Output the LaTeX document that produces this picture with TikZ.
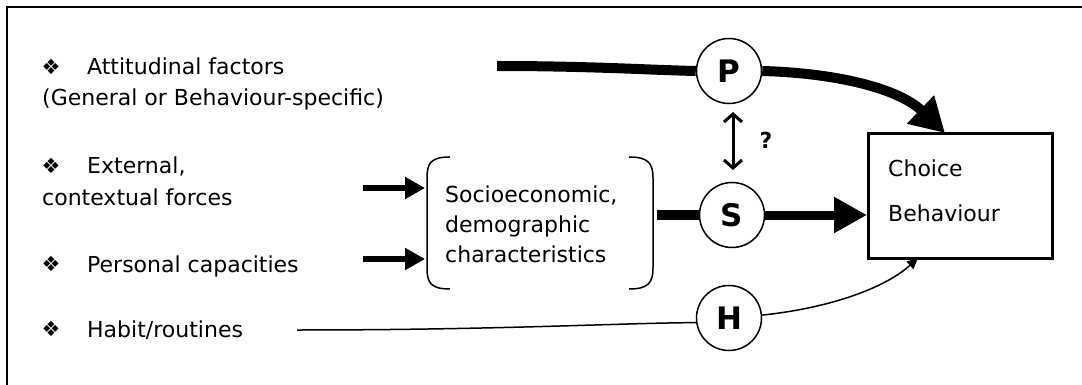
\documentclass[tikz,border=0pt]{standalone}
\usepackage{fontspec}
\setmainfont{DejaVu Sans}
\usetikzlibrary{arrows.meta}

\begin{document}
\begin{tikzpicture}[x=1pt,y=-1pt,
  txt/.style={font=\fontsize{22}{26}\selectfont, anchor=base west, inner sep=0pt},
  bul/.style={font=\fontsize{21}{25}\selectfont, inner sep=0pt},
  factor/.style={circle, draw, line width=1.5pt, minimum size=65pt, inner sep=0pt,
    fill=white, font=\fontsize{31}{34}\selectfont\bfseries},
  heavy/.style={line width=10pt},
  feed/.style={line width=6pt, -{Triangle[length=20pt,width=21pt]}},
  thin/.style={line width=1.5pt},
  brk/.style={line width=1.5pt}
]
\useasboundingbox (0,0) rectangle (1082,385);

% frame
\draw[line width=2pt] (7,385) -- (7,7) -- (1082,7);

% influences listed on the left
\node[bul] (b1) at (51,67) {❖};
\node[txt] (t1) at (87,75) {Attitudinal factors};
\node[txt] (t1b) at (42,106) {(General or Behaviour-specific)};
\node[bul] (b2) at (51,166) {❖};
\node[txt] (t2) at (87,174) {External,};
\node[txt] (t2b) at (42,205) {contextual forces};
\node[bul] (b3) at (51,264) {❖};
\node[txt] (t3) at (87,272) {Personal capacities};
\node[bul] (b4) at (51,329) {❖};
\node[txt] (t4) at (87,337) {Habit/routines};

% bracketed group
\node[txt] (s1) at (445,203) {Socioeconomic,};
\node[txt] (s2) at (445,233) {demographic};
\node[txt] (s3) at (445,262) {characteristics};
\draw[brk] (450,157) .. controls (431,157) and (427,163) .. (427,178) -- (427,268)
  .. controls (427,283) and (431,289) .. (450,289);
\draw[brk] (629,157) .. controls (648,157) and (653,163) .. (653,178) -- (653,268)
  .. controls (653,283) and (648,289) .. (629,289);

% outcome box
\node[draw, line width=3pt, minimum width=184pt, minimum height=125pt,
  anchor=north west, inner sep=0pt] (cb) at (867,132) {};
\node[txt] (c1) at (888,176) {Choice};
\node[txt] (c2) at (888,222) {Behaviour};

% circled factors
\node[factor] (P) at (729,71) {P};
\node[factor] (S) at (732,215) {S};
\node[factor] (H) at (729,318) {H};

% anchor points for connectors
\coordinate (a0) at (497,66);
\coordinate (pt) at (945,133);
\coordinate (e0) at (363,188);
\coordinate (e1) at (425,188);
\coordinate (f0) at (363,259);
\coordinate (f1) at (425,259);
\coordinate (g0) at (657,215);
\coordinate (h0) at (297,330);
\coordinate (ht) at (918,258);
\coordinate (q0) at (733,112);
\coordinate (q1) at (733,170);

% connectors
\draw[heavy] (a0) .. controls (590,66) and (650,70) .. (P.west);
\draw[heavy, -{Triangle[length=34pt,width=37pt]}] (P.east)
  .. controls (835,73) and (898,88) .. (pt);
\draw[feed] (e0) -- (e1);
\draw[feed] (f0) -- (f1);
\draw[heavy] (g0) -- (S.west);
\draw[line width=9pt, -{Triangle[length=33pt,width=34pt]}] (S.east) -- (S -| cb.west);
\draw[thin] (h0) .. controls (500,330) and (620,323) .. (H.188);
\draw[thin, -{Triangle[length=11pt,width=10pt]}] (H.5)
  .. controls (830,308) and (885,288) .. (ht);
\draw[line width=3pt, {Straight Barb[length=8pt,width=18pt]}-{Straight Barb[length=8pt,width=18pt]}]
  (q0) -- (q1);
\node[font=\fontsize{22}{26}\selectfont\bfseries] (qm) at (766,140) {?};
\end{tikzpicture}
\end{document}
